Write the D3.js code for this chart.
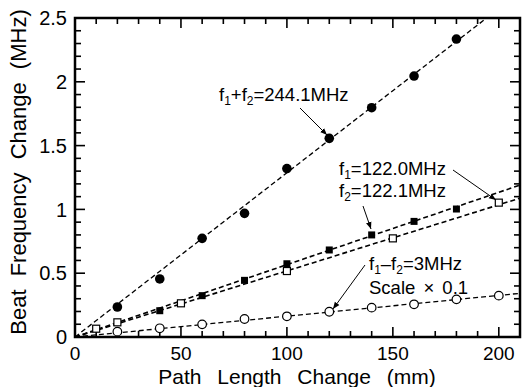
<!DOCTYPE html>
<html>
<head>
<meta charset="utf-8">
<script src="https://cdn.jsdelivr.net/npm/d3@7"></script>
<style>
  body { margin: 0; background: #fff; }
  text { font-family: "Liberation Sans", Arial, sans-serif; fill: #000; }
</style>
</head>
<body>
<div class="chart"></div>
<script>
// data
var sumX = [20, 40, 60, 80, 100, 120, 140, 160, 180];
var sumY = [0.235, 0.455, 0.773, 0.969, 1.32, 1.557, 1.797, 2.045, 2.335];

var f1X = [40, 60, 80, 100, 120, 140, 160, 180];
var f1Y = [0.206, 0.324, 0.444, 0.574, 0.682, 0.80, 0.906, 1.003];

var f2X = [10, 20, 50, 100, 150, 200];
var f2Y = [0.065, 0.115, 0.264, 0.517, 0.773, 1.053];

var diffX = [20, 40, 60, 80, 100, 120, 140, 160, 180, 200];
var diffY = [0.042, 0.068, 0.099, 0.141, 0.162, 0.198, 0.23, 0.256, 0.295, 0.324];

// fitted line slopes (MHz per mm, through origin)
var fitSlopes = [0.01287, 0.00567, 0.00518, 0.00163];

var xTicks = [0, 50, 100, 150, 200];
var yTicks = [0, 0.5, 1, 1.5, 2, 2.5];

var svgWidth = 523, svgHeight = 387;
var margin = { top: 18, right: 3, bottom: 50, left: 75 };
var chartWidth = svgWidth - margin.left - margin.right;
var chartHeight = svgHeight - margin.top - margin.bottom;

var svg = d3.select(".chart")
  .append("svg")
  .attr("width", svgWidth)
  .attr("height", svgHeight);

var defs = svg.append("defs");
defs.append("marker")
  .attr("id", "arrow")
  .attr("viewBox", "0 0 10 10")
  .attr("refX", 10)
  .attr("refY", 5)
  .attr("markerWidth", 7)
  .attr("markerHeight", 7)
  .attr("markerUnits", "userSpaceOnUse")
  .attr("orient", "auto")
  .append("path")
  .attr("d", "M0,1 L10,5 L0,9 Z")
  .attr("fill", "#000");

var chartGroup = svg.append("g")
  .attr("transform", `translate(${margin.left}, ${margin.top})`);

var xScale = d3.scaleLinear().domain([0, 210]).range([0, chartWidth]);
var yScale = d3.scaleLinear().domain([0, 2.5]).range([chartHeight, 0]);

// ticks pointing inward on all four sides
var minorX = d3.range(0, 211, 10);
var minorY = d3.range(0, 26).map(d => d / 10);

function tickLen(v, step) {
  return Math.abs(v / step - Math.round(v / step)) < 1e-6 ? 10 : 6;
}

var tickGroup = chartGroup.append("g")
  .attr("stroke", "#000")
  .attr("stroke-width", 1.6);

minorX.forEach(function(v) {
  var len = tickLen(v, 50);
  tickGroup.append("line")
    .attr("x1", xScale(v)).attr("x2", xScale(v))
    .attr("y1", chartHeight).attr("y2", chartHeight - len);
  tickGroup.append("line")
    .attr("x1", xScale(v)).attr("x2", xScale(v))
    .attr("y1", 0).attr("y2", len);
});

minorY.forEach(function(v) {
  var len = tickLen(v, 0.5);
  tickGroup.append("line")
    .attr("x1", 0).attr("x2", len)
    .attr("y1", yScale(v)).attr("y2", yScale(v));
  tickGroup.append("line")
    .attr("x1", chartWidth).attr("x2", chartWidth - len)
    .attr("y1", yScale(v)).attr("y2", yScale(v));
});

// frame
chartGroup.append("rect")
  .attr("x", 0).attr("y", 0)
  .attr("width", chartWidth).attr("height", chartHeight)
  .attr("fill", "none")
  .attr("stroke", "#000")
  .attr("stroke-width", 2.5);

// tick labels
chartGroup.selectAll(".xlab")
  .data(xTicks)
  .enter()
  .append("text")
  .attr("class", "xlab")
  .attr("x", d => xScale(d))
  .attr("y", chartHeight + 23)
  .attr("text-anchor", "middle")
  .style("font-size", "19px")
  .text(d => d);

chartGroup.selectAll(".ylab")
  .data(yTicks)
  .enter()
  .append("text")
  .attr("class", "ylab")
  .attr("x", -8)
  .attr("y", d => yScale(d))
  .attr("dy", "0.36em")
  .attr("text-anchor", "end")
  .style("font-size", "20px")
  .text(d => d);

// axis titles
svg.append("text")
  .attr("x", 297)
  .attr("y", 384)
  .attr("text-anchor", "middle")
  .style("font-size", "21px")
  .style("word-spacing", "10px")
  .text("Path Length Change (mm)");

svg.append("text")
  .attr("transform", "translate(26, 172) rotate(-90)")
  .attr("text-anchor", "middle")
  .style("font-size", "22px")
  .style("word-spacing", "7px")
  .text("Beat Frequency Change (MHz)");

// clip to plot area
defs.append("clipPath")
  .attr("id", "plotClip")
  .append("rect")
  .attr("width", chartWidth)
  .attr("height", chartHeight);

var plot = chartGroup.append("g").attr("clip-path", "url(#plotClip)");

// dashed fit lines
plot.selectAll(".fit")
  .data(fitSlopes)
  .enter()
  .append("line")
  .attr("class", "fit")
  .attr("x1", xScale(0))
  .attr("y1", yScale(0))
  .attr("x2", xScale(210))
  .attr("y2", d => yScale(d * 210))
  .attr("stroke", "#000")
  .attr("stroke-width", (d, i) => (i == 1 || i == 2) ? 1.6 : 1.3)
  .attr("stroke-dasharray", "5,3");

// markers
var markGroup = chartGroup.append("g");

markGroup.selectAll(".sum")
  .data(sumX)
  .enter()
  .append("circle")
  .attr("cx", d => xScale(d))
  .attr("cy", (d, i) => yScale(sumY[i]))
  .attr("r", 4.8)
  .attr("fill", "#000");

markGroup.selectAll(".f1")
  .data(f1X)
  .enter()
  .append("rect")
  .attr("x", d => xScale(d) - 3.5)
  .attr("y", (d, i) => yScale(f1Y[i]) - 3.5)
  .attr("width", 7)
  .attr("height", 7)
  .attr("fill", "#000");

markGroup.selectAll(".f2")
  .data(f2X)
  .enter()
  .append("rect")
  .attr("x", d => xScale(d) - 3.5)
  .attr("y", (d, i) => yScale(f2Y[i]) - 3.5)
  .attr("width", 7)
  .attr("height", 7)
  .attr("fill", "#fff")
  .attr("stroke", "#000")
  .attr("stroke-width", 1.2);

markGroup.selectAll(".diff")
  .data(diffX)
  .enter()
  .append("circle")
  .attr("cx", d => xScale(d))
  .attr("cy", (d, i) => yScale(diffY[i]))
  .attr("r", 4.3)
  .attr("fill", "#fff")
  .attr("stroke", "#000")
  .attr("stroke-width", 1.2);

// annotations with subscripts
function subLabel(x, y, parts) {
  var t = svg.append("text")
    .attr("x", x)
    .attr("y", y)
    .style("font-size", "18.5px");
  parts.forEach(function(p) {
    if (p[1]) {
      t.append("tspan").attr("dy", 3.5).style("font-size", "12px").text(p[0]);
    } else {
      t.append("tspan").attr("dy", p[2] || 0).text(p[0]);
    }
  });
  return t;
}

subLabel(219, 101, [["f"], ["1", true], ["+f", false, -3.5], ["2", true], ["=244.1MHz", false, -3.5]]);
subLabel(339, 175, [["f"], ["1", true], ["=122.0MHz", false, -3.5]]);
subLabel(339, 197, [["f"], ["2", true], ["=122.1MHz", false, -3.5]]);
subLabel(369, 270, [["f"], ["1", true], ["\u2013f", false, -3.5], ["2", true], ["=3MHz", false, -3.5]]);
svg.append("text")
  .attr("x", 369)
  .attr("y", 294)
  .style("font-size", "18.5px")
  .style("word-spacing", "3px")
  .text("Scale \u00d7 0.1");

// arrows from the labels to the points
var arrows = [
  [300, 108, 327, 135],
  [453, 170, 496, 200],
  [363, 206, 371, 229],
  [365, 265, 333, 309]
];
svg.selectAll(".arrow")
  .data(arrows)
  .enter()
  .append("line")
  .attr("x1", d => d[0]).attr("y1", d => d[1])
  .attr("x2", d => d[2]).attr("y2", d => d[3])
  .attr("stroke", "#000")
  .attr("stroke-width", 1)
  .attr("marker-end", "url(#arrow)");
</script>
</body>
</html>
